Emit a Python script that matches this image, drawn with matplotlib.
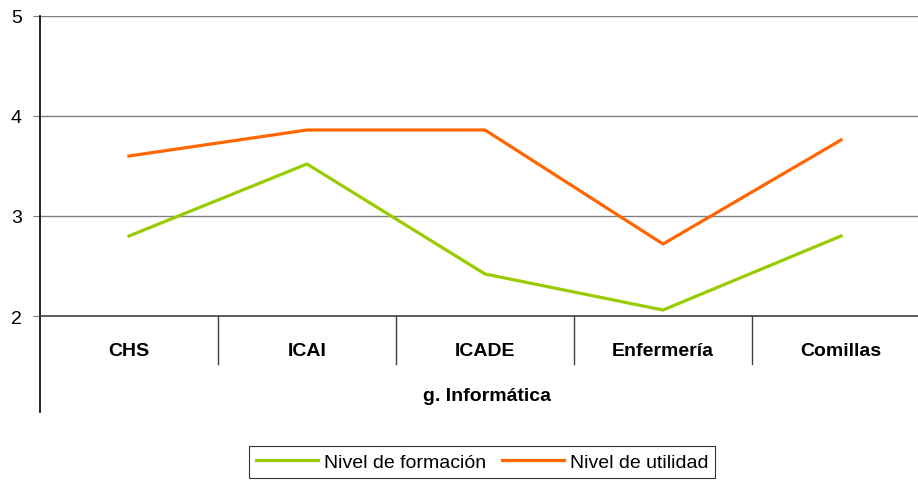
import matplotlib.pyplot as plt
from matplotlib.lines import Line2D

plt.rcParams['font.family'] = ['Liberation Sans', 'DejaVu Sans']

categories = ['CHS', 'ICAI', 'ICADE', 'Enfermería', 'Comillas']
group_label = 'g. Informática'
formacion = [2.80, 3.52, 2.42, 2.06, 2.80]
utilidad = [3.60, 3.86, 3.86, 2.72, 3.76]

W, H = 918, 485
fig = plt.figure(figsize=(W / 100, H / 100), dpi=100)
# plot area: x from 40 to 930 px (runs past the right edge), y from 17 to 317 px
ax = fig.add_axes([40 / W, 1 - 317 / H, 890 / W, 300 / H])

x = range(len(categories))
ax.plot(x, formacion, color='#99CC00', lw=2.3, solid_joinstyle='miter', label='Nivel de formación')
ax.plot(x, utilidad, color='#FF6600', lw=2.3, solid_joinstyle='miter', label='Nivel de utilidad')

ax.set_xlim(-0.5, len(categories) - 0.5)
ax.set_ylim(2, 5)
ax.set_yticks([2, 3, 4, 5])
ax.set_yticklabels(['2', '3', '4', '5'], fontsize=14)
ax.tick_params(axis='y', length=5, width=0.8, color='#808080', pad=8)
ax.set_xticks([])

for y in [3, 4, 5]:
    ax.axhline(y, color='#808080', lw=1, zorder=0)

for s in ['top', 'right']:
    ax.spines[s].set_visible(False)
ax.spines['bottom'].set_color('#404040')
ax.spines['bottom'].set_linewidth(1.2)
ax.spines['left'].set_visible(False)

# left axis line extends down past the category area
ax.add_line(Line2D([-0.5, -0.5], [1.0, -0.32], transform=ax.get_xaxis_transform(),
                   color='black', lw=1.2, clip_on=False))

# category separators and labels
for i in range(len(categories) - 1):
    ax.add_line(Line2D([i + 0.5, i + 0.5], [0, -0.16], transform=ax.get_xaxis_transform(),
                       color='#404040', lw=1, clip_on=False))
for i, c in enumerate(categories):
    ax.text(i, -0.115, c, transform=ax.get_xaxis_transform(), ha='center', va='center',
            fontsize=14, fontweight='bold')

fig.text(487 / W, 1 - 397 / H, group_label, ha='center', va='center', fontsize=14, fontweight='bold')

leg = fig.legend(loc='center', bbox_to_anchor=(482 / W, 1 - 463 / H), ncol=2, fontsize=14,
                 frameon=True, fancybox=False, edgecolor='black', handlelength=3.2,
                 handletextpad=0.3, columnspacing=0.8, borderpad=0.35)
leg.get_frame().set_linewidth(0.8)

fig.savefig('out.png', dpi=100)
